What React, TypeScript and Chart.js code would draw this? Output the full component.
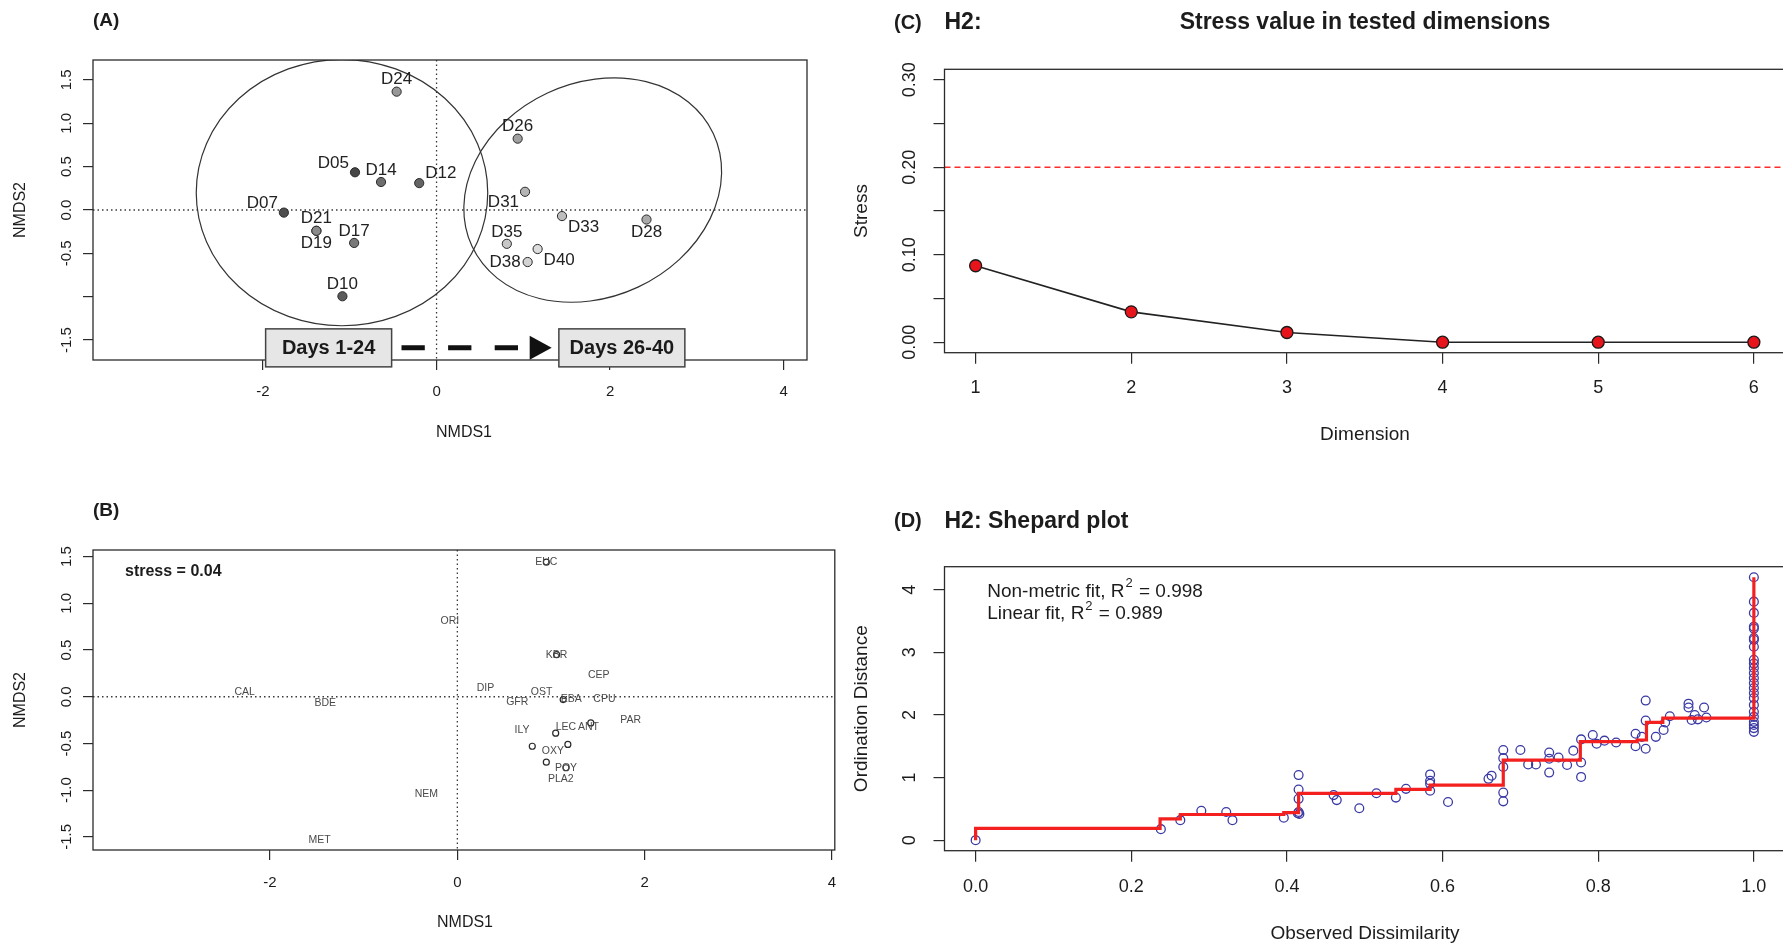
import React, { useEffect, useRef } from 'react';
import { Chart, registerables } from 'chart.js';

Chart.register(...registerables);

const FONT = '"Liberation Sans", Arimo, Arial, Helvetica, sans-serif';
const INK = '#1c1c1c';

// ---------------- Panel A : site scores ----------------
const siteNames = ['D05', 'D07', 'D10', 'D12', 'D14', 'D17', 'D19', 'D21', 'D24', 'D26', 'D28', 'D31', 'D33', 'D35', 'D38', 'D40'];
const siteX = [-0.94, -1.76, -1.085, -0.2, -0.64, -0.95, -1.385, -1.385, -0.46, 0.935, 2.42, 1.02, 1.446, 0.81, 1.05, 1.165];
const siteY = [0.435, -0.03, -0.995, 0.31, 0.323, -0.38, -0.24, -0.24, 1.365, 0.823, -0.11, 0.21, -0.07, -0.39, -0.6, -0.45];
const siteLabelPos = ['topleft', 'topleft', 'top', 'topright', 'top', 'top', 'bottom', 'top', 'top', 'top', 'bottom', 'bottomleft', 'bottomright', 'top', 'left', 'bottomright'];

const ellipseCX = [-1.09, 1.8];
const ellipseCY = [0.2, 0.23];
const ellipseRX = [1.68, 1.535];
const ellipseRY = [1.535, 1.235];
const ellipseAngle = [0, 25];

const periodLabels = ['Days 1-24', 'Days 26-40'];
const periodBoxX = [-1.244, 2.136];
const periodY = -1.59;
const arrowFromX = -0.404;
const arrowToX = 1.327;

const aXTicks = [-2, 0, 2, 4];
const aXTickLabels = ['-2', '0', '2', '4'];
const aYTicks = [-1.5, -1, -0.5, 0, 0.5, 1, 1.5];
const aYTickLabels = ['-1.5', '', '-0.5', '0.0', '0.5', '1.0', '1.5'];

// ---------------- Panel B : species scores ----------------
const speciesNames = ['EUC', 'ORI', 'KBR', 'CEP', 'DIP', 'OST', 'GFR', 'EBA', 'CPU', 'PAR', 'ILY', 'LEC', 'ANT', 'OXY', 'POY', 'PLA2', 'CAL', 'BDE', 'NEM', 'MET'];
const speciesX = [0.95, -0.08, 1.06, 1.51, 0.3, 0.9, 0.64, 1.215, 1.57, 1.85, 0.69, 1.16, 1.4, 1.02, 1.16, 1.105, -2.27, -1.41, -0.33, -1.47];
const speciesY = [1.44, 0.81, 0.45, 0.23, 0.09, 0.05, -0.06, -0.03, -0.03, -0.25, -0.36, -0.33, -0.33, -0.58, -0.76, -0.88, 0.05, -0.07, -1.04, -1.53];
const speciesPointX = [0.95, 1.06, 1.13, 1.425, 1.05, 0.8, 1.18, 0.95, 1.16];
const speciesPointY = [1.44, 0.45, -0.03, -0.28, -0.39, -0.53, -0.51, -0.7, -0.76];
const stressText = 'stress = 0.04';

const bXTicks = [-2, 0, 2, 4];
const bXTickLabels = ['-2', '0', '2', '4'];
const bYTicks = [-1.5, -1, -0.5, 0, 0.5, 1, 1.5];
const bYTickLabels = ['-1.5', '-1.0', '-0.5', '0.0', '0.5', '1.0', '1.5'];

// ---------------- Panel C : stress vs dimension ----------------
const dimensions = [1, 2, 3, 4, 5, 6];
const stressValues = [0.0874, 0.0347, 0.0111, 0.0, 0.0, 0.0];
const stressThreshold = 0.2;
const cXTicks = [1, 2, 3, 4, 5, 6];
const cXTickLabels = ['1', '2', '3', '4', '5', '6'];
const cYTicks = [0, 0.05, 0.1, 0.15, 0.2, 0.25, 0.3];
const cYTickLabels = ['0.00', '', '0.10', '', '0.20', '', '0.30'];

// ---------------- Panel D : Shepard plot ----------------
const shepX = [
  0, 0.238, 0.263, 0.29, 0.322, 0.33, 0.396, 0.414, 0.415, 0.415, 0.415, 0.415, 0.416,
  0.46, 0.464, 0.493, 0.515, 0.54, 0.553, 0.584, 0.584, 0.584, 0.584, 0.607, 0.659, 0.663,
  0.678, 0.678, 0.678, 0.678, 0.678, 0.7, 0.71, 0.72, 0.737, 0.737, 0.737, 0.749, 0.76, 0.768,
  0.778, 0.778, 0.778, 0.793, 0.798, 0.808, 0.823, 0.848, 0.848, 0.856, 0.861, 0.861, 0.861,
  0.874, 0.884, 0.886, 0.892, 0.916, 0.916, 0.92, 0.924, 0.928, 0.936, 0.939,
  1, 1, 1, 1, 1, 1, 1, 1, 1, 1, 1, 1, 1, 1, 1, 1, 1, 1, 1, 1, 1, 1, 1, 1,
];
const shepY = [
  0, 0.176, 0.32, 0.47, 0.45, 0.32, 0.36, 0.43, 1.04, 0.81, 0.66, 0.45, 0.42,
  0.72, 0.64, 0.51, 0.75, 0.68, 0.82, 1.05, 0.95, 0.9, 0.79, 0.61, 0.98, 1.03,
  1.44, 1.31, 1.17, 0.76, 0.62, 1.44, 1.21, 1.21, 1.4, 1.3, 1.08, 1.32, 1.2, 1.43,
  1.61, 1.24, 1.01, 1.68, 1.54, 1.59, 1.56, 1.7, 1.5, 1.65, 2.23, 1.91, 1.46,
  1.65, 1.76, 1.88, 1.98, 2.18, 2.12, 1.92, 2.0, 1.93, 2.12, 1.96,
  4.2, 3.81, 3.63, 3.41, 3.38, 3.23, 3.2, 3.09, 2.88, 2.82, 2.75, 2.67, 2.59, 2.51, 2.43, 2.35, 2.27, 2.16, 2.05, 1.97, 1.89, 1.84, 1.79, 1.73,
];
const fitX = [0, 0, 0.237, 0.263, 0.396, 0.415, 0.54, 0.584, 0.678, 0.777, 0.85, 0.862, 0.883, 1.0, 1.0];
const fitY = [0, 0.187, 0.34, 0.41, 0.44, 0.747, 0.81, 0.88, 1.28, 1.573, 1.6, 1.88, 1.95, 1.95, 4.2];
const fitLegend = [['Non-metric fit, R', ' = 0.998'], ['Linear fit, R', ' = 0.989']];
const dXTicks = [0, 0.2, 0.4, 0.6, 0.8, 1.0];
const dXTickLabels = ['0.0', '0.2', '0.4', '0.6', '0.8', '1.0'];
const dYTicks = [0, 1, 2, 3, 4];
const dYTickLabels = ['0', '1', '2', '3', '4'];

// ---------------- helpers ----------------
function linAxis(min: number, max: number, tickVals: number[], tickLen: number, size: number, horizontal: boolean): any {
  return {
    type: 'linear',
    min,
    max,
    afterBuildTicks: (s: any) => {
      s.ticks = tickVals.map((v) => ({ value: v }));
    },
    afterFit: (s: any) => {
      if (horizontal) s.height = size;
      else s.width = size;
    },
    ticks: { display: false },
    grid: { display: true, drawOnChartArea: false, drawTicks: true, tickLength: tickLen, color: '#2b2b2b', lineWidth: 1.2 },
    border: { display: false },
  };
}

function baseOptions(padTop: number, padRight: number, x: any, y: any): any {
  return {
    responsive: false,
    maintainAspectRatio: false,
    animation: false,
    events: [],
    layout: { padding: { top: padTop, right: padRight, left: 0, bottom: 0 } },
    plugins: { legend: { display: false }, tooltip: { enabled: false }, title: { display: false } },
    scales: { x, y },
  };
}

function drawText(ctx: CanvasRenderingContext2D, s: string, x: number, y: number, font: string, align: CanvasTextAlign = 'center', color = INK, rot = 0) {
  ctx.save();
  ctx.font = font;
  ctx.fillStyle = color;
  ctx.textAlign = align;
  ctx.textBaseline = 'middle';
  ctx.translate(x, y);
  if (rot) ctx.rotate(rot);
  ctx.fillText(s, 0, 0);
  ctx.restore();
}

function frame(ctx: CanvasRenderingContext2D, a: any) {
  ctx.save();
  ctx.strokeStyle = '#2b2b2b';
  ctx.lineWidth = 1.3;
  ctx.strokeRect(a.left, a.top, a.right - a.left, a.bottom - a.top);
  ctx.restore();
}

function zeroLines(ctx: CanvasRenderingContext2D, a: any, xs: any, ys: any) {
  ctx.save();
  ctx.strokeStyle = '#3a3a3a';
  ctx.lineWidth = 1.3;
  ctx.setLineDash([1.5, 3]);
  ctx.beginPath();
  const x0 = xs.getPixelForValue(0);
  const y0 = ys.getPixelForValue(0);
  ctx.moveTo(x0, a.top);
  ctx.lineTo(x0, a.bottom);
  ctx.moveTo(a.left, y0);
  ctx.lineTo(a.right, y0);
  ctx.stroke();
  ctx.restore();
}

function xTickLabels(chart: any, vals: number[], labels: string[], yPos: number, font: string) {
  const xs = chart.scales.x;
  vals.forEach((v, i) => {
    if (labels[i]) drawText(chart.ctx, labels[i], xs.getPixelForValue(v), yPos, font);
  });
}

function yTickLabels(chart: any, vals: number[], labels: string[], xPos: number, font: string) {
  const ys = chart.scales.y;
  vals.forEach((v, i) => {
    if (labels[i]) drawText(chart.ctx, labels[i], xPos, ys.getPixelForValue(v), font, 'center', INK, -Math.PI / 2);
  });
}

const LABEL_OFFSETS: Record<string, [number, number, CanvasTextAlign]> = {
  top: [0, -12, 'center'],
  bottom: [0, 13, 'center'],
  topleft: [-6, -9, 'right'],
  topright: [6, -10, 'left'],
  bottomleft: [-6, 11, 'right'],
  bottomright: [6, 11, 'left'],
  left: [-7, 0, 'right'],
};

// ---------------- Panel A ----------------
const pluginA = {
  id: 'panelA',
  beforeDatasetsDraw(chart: any) {
    const { ctx, chartArea: a } = chart;
    const xs = chart.scales.x;
    const ys = chart.scales.y;
    zeroLines(ctx, a, xs, ys);
    ctx.save();
    ctx.beginPath();
    ctx.rect(a.left, a.top, a.right - a.left, a.bottom - a.top);
    ctx.clip();
    ctx.strokeStyle = '#333';
    ctx.lineWidth = 1.2;
    for (let i = 0; i < ellipseCX.length; i++) {
      const cx = xs.getPixelForValue(ellipseCX[i]);
      const cy = ys.getPixelForValue(ellipseCY[i]);
      const rx = Math.abs(xs.getPixelForValue(ellipseCX[i] + ellipseRX[i]) - cx);
      const ry = Math.abs(ys.getPixelForValue(ellipseCY[i] + ellipseRY[i]) - cy);
      ctx.beginPath();
      ctx.ellipse(cx, cy, rx, ry, (-ellipseAngle[i] * Math.PI) / 180, 0, Math.PI * 2);
      ctx.stroke();
    }
    ctx.restore();
    frame(ctx, a);
  },
  afterDatasetsDraw(chart: any) {
    const xs = chart.scales.x;
    const ys = chart.scales.y;
    siteNames.forEach((n, i) => {
      const [dx, dy, al] = LABEL_OFFSETS[siteLabelPos[i]];
      drawText(chart.ctx, n, xs.getPixelForValue(siteX[i]) + dx, ys.getPixelForValue(siteY[i]) + dy, `17px ${FONT}`, al, '#222');
    });
  },
  afterDraw(chart: any) {
    const { ctx } = chart;
    const xs = chart.scales.x;
    const ys = chart.scales.y;
    const yA = ys.getPixelForValue(periodY);
    const x0 = xs.getPixelForValue(arrowFromX);
    const x1 = xs.getPixelForValue(arrowToX);
    ctx.save();
    ctx.strokeStyle = '#111';
    ctx.lineWidth = 5;
    ctx.setLineDash([23.3, 23.3]);
    ctx.beginPath();
    ctx.moveTo(x0, yA);
    ctx.lineTo(x1 - 33.4, yA);
    ctx.stroke();
    ctx.setLineDash([]);
    ctx.fillStyle = '#111';
    ctx.beginPath();
    ctx.moveTo(x1, yA);
    ctx.lineTo(x1 - 22, yA - 12);
    ctx.lineTo(x1 - 22, yA + 12);
    ctx.closePath();
    ctx.fill();
    periodLabels.forEach((lab, i) => {
      const cx = xs.getPixelForValue(periodBoxX[i]);
      const w = 126;
      const h = 38;
      ctx.fillStyle = '#e6e6e6';
      ctx.strokeStyle = '#444';
      ctx.lineWidth = 1.5;
      ctx.fillRect(cx - w / 2, yA - h / 2, w, h);
      ctx.strokeRect(cx - w / 2, yA - h / 2, w, h);
      drawText(ctx, lab, cx, yA + 1, `bold 20px ${FONT}`, 'center', '#1a1a1a');
    });
    ctx.restore();
    xTickLabels(chart, aXTicks, aXTickLabels, 392, `15px ${FONT}`);
    yTickLabels(chart, aYTicks, aYTickLabels, 67, `15px ${FONT}`);
    drawText(ctx, 'NMDS1', 464, 433, `16px ${FONT}`);
    drawText(ctx, 'NMDS2', 21, 210, `16px ${FONT}`, 'center', INK, -Math.PI / 2);
    drawText(ctx, '(A)', 93, 21, `bold 19px ${FONT}`, 'left');
  },
};

function buildA(): any {
  const data = siteNames.map((_, i) => ({ x: siteX[i], y: siteY[i] }));
  const colors = siteNames.map((n) => {
    const d = parseInt(n.slice(1), 10);
    const g = Math.round(70 + ((d - 5) / 35) * 150);
    return `rgb(${g},${g},${g})`;
  });
  return {
    type: 'scatter',
    data: {
      datasets: [
        { data, pointRadius: 4.6, pointBackgroundColor: colors, pointBorderColor: '#2a2a2a', pointBorderWidth: 1 },
      ],
    },
    options: baseOptions(60, 33, linAxis(-3.96, 4.27, aXTicks, 10, 110, true), linAxis(-1.73, 1.73, aYTicks, 10, 93, false)),
    plugins: [pluginA],
  };
}

// ---------------- Panel B ----------------
const pluginB = {
  id: 'panelB',
  beforeDatasetsDraw(chart: any) {
    const { ctx, chartArea: a } = chart;
    zeroLines(ctx, a, chart.scales.x, chart.scales.y);
    frame(ctx, a);
  },
  afterDatasetsDraw(chart: any) {
    const xs = chart.scales.x;
    const ys = chart.scales.y;
    speciesNames.forEach((n, i) => {
      drawText(chart.ctx, n, xs.getPixelForValue(speciesX[i]), ys.getPixelForValue(speciesY[i]), `10.5px ${FONT}`, 'center', '#4a4a4a');
    });
  },
  afterDraw(chart: any) {
    const { ctx } = chart;
    xTickLabels(chart, bXTicks, bXTickLabels, 413, `15px ${FONT}`);
    yTickLabels(chart, bYTicks, bYTickLabels, 67, `15px ${FONT}`);
    drawText(ctx, 'NMDS1', 465, 453, `16px ${FONT}`);
    drawText(ctx, 'NMDS2', 21, 230, `16px ${FONT}`, 'center', INK, -Math.PI / 2);
    drawText(ctx, '(B)', 93, 41, `bold 19px ${FONT}`, 'left');
    drawText(ctx, stressText, 125, 102, `bold 16px ${FONT}`, 'left');
  },
};

function buildB(): any {
  const data = speciesPointX.map((x, i) => ({ x, y: speciesPointY[i] }));
  return {
    type: 'scatter',
    data: {
      datasets: [
        { data, pointRadius: 3, pointBackgroundColor: 'rgba(0,0,0,0)', pointBorderColor: '#2a2a2a', pointBorderWidth: 1.2 },
      ],
    },
    options: baseOptions(80, 3.5, linAxis(-3.89, 4.03, bXTicks, 10, 96, true), linAxis(-1.64, 1.57, bYTicks, 10, 93, false)),
    plugins: [pluginB],
  };
}

// ---------------- Panel C ----------------
const pluginC = {
  id: 'panelC',
  beforeDatasetsDraw(chart: any) {
    const { ctx, chartArea: a } = chart;
    const y = chart.scales.y.getPixelForValue(stressThreshold);
    ctx.save();
    ctx.strokeStyle = '#ff2a2a';
    ctx.lineWidth = 1.5;
    ctx.setLineDash([6, 4]);
    ctx.beginPath();
    ctx.moveTo(a.left, y);
    ctx.lineTo(a.right, y);
    ctx.stroke();
    ctx.restore();
    frame(ctx, a);
  },
  afterDraw(chart: any) {
    const { ctx } = chart;
    xTickLabels(chart, cXTicks, cXTickLabels, 388, `18px ${FONT}`);
    yTickLabels(chart, cYTicks, cYTickLabels, 70, `18px ${FONT}`);
    drawText(ctx, 'Dimension', 525, 435, `19px ${FONT}`);
    drawText(ctx, 'Stress', 22, 211, `19px ${FONT}`, 'center', INK, -Math.PI / 2);
    drawText(ctx, '(C)', 54, 23, `bold 20px ${FONT}`, 'left');
    drawText(ctx, 'H2:', 104.5, 23, `bold 23px ${FONT}`, 'left');
    drawText(ctx, 'Stress value in tested dimensions', 525, 23, `bold 23px ${FONT}`);
  },
};

function buildC(): any {
  const data = dimensions.map((d, i) => ({ x: d, y: stressValues[i] }));
  return {
    type: 'scatter',
    data: {
      datasets: [
        {
          data,
          showLine: true,
          borderColor: '#222',
          borderWidth: 1.6,
          pointRadius: 6,
          pointBackgroundColor: '#e8141b',
          pointBorderColor: '#1a1a1a',
          pointBorderWidth: 1.3,
        },
      ],
    },
    options: baseOptions(69.3, 15, linAxis(0.8, 6.2, cXTicks, 11, 117.3, true), linAxis(-0.012, 0.312, cYTicks, 11, 104.5, false)),
    plugins: [pluginC],
  };
}

// ---------------- Panel D ----------------
const pluginD = {
  id: 'panelD',
  beforeDatasetsDraw(chart: any) {
    frame(chart.ctx, chart.chartArea);
  },
  afterDraw(chart: any) {
    const { ctx } = chart;
    xTickLabels(chart, dXTicks, dXTickLabels, 416.7, `18px ${FONT}`);
    yTickLabels(chart, dYTicks, dYTickLabels, 70, `18px ${FONT}`);
    drawText(ctx, 'Observed Dissimilarity', 525, 463.3, `19px ${FONT}`);
    drawText(ctx, 'Ordination Distance', 22, 238.7, `19px ${FONT}`, 'center', INK, -Math.PI / 2);
    drawText(ctx, '(D)', 54, 51.7, `bold 20px ${FONT}`, 'left');
    drawText(ctx, 'H2: Shepard plot', 104.5, 51.7, `bold 23px ${FONT}`, 'left');
    const lx = 147.2;
    const lys = [121.7, 144];
    fitLegend.forEach(([pre, post], i) => {
      const y = lys[i];
      ctx.save();
      ctx.fillStyle = INK;
      ctx.textBaseline = 'middle';
      ctx.textAlign = 'left';
      ctx.font = `19px ${FONT}`;
      ctx.fillText(pre, lx, y);
      const w1 = ctx.measureText(pre).width;
      ctx.font = `13px ${FONT}`;
      ctx.fillText('2', lx + w1 + 1, y - 8);
      const w2 = ctx.measureText('2').width;
      ctx.font = `19px ${FONT}`;
      ctx.fillText(post, lx + w1 + w2 + 2, y);
      ctx.restore();
    });
  },
};

function buildD(): any {
  const pts = shepX.map((x, i) => ({ x, y: shepY[i] }));
  const fit = fitX.map((x, i) => ({ x, y: fitY[i] }));
  return {
    type: 'scatter',
    data: {
      datasets: [
        { data: fit, showLine: true, stepped: 'before', borderColor: '#f42020', borderWidth: 3.2, pointRadius: 0 },
        { data: pts, pointRadius: 4.4, pointBackgroundColor: 'rgba(0,0,0,0)', pointBorderColor: '#3a3aa5', pointBorderWidth: 1.3 },
      ],
    },
    options: baseOptions(96.7, 15, linAxis(-0.04, 1.04, dXTicks, 11, 95.3, true), linAxis(-0.168, 4.368, dYTicks, 11, 104.5, false)),
    plugins: [pluginD],
  };
}

// ---------------- components ----------------
type Spec = { left: number; top: number; width: number; height: number };

function Panel({ spec, build }: { spec: Spec; build: () => any }) {
  const ref = useRef<HTMLCanvasElement>(null);
  useEffect(() => {
    if (!ref.current) return;
    const chart = new Chart(ref.current, build());
    return () => chart.destroy();
  }, []);
  return (
    <canvas
      ref={ref}
      width={spec.width}
      height={spec.height}
      style={{ position: 'absolute', left: spec.left, top: spec.top, width: spec.width, height: spec.height }}
    />
  );
}

export default function App() {
  return (
    <div style={{ position: 'fixed', left: 0, top: 0, width: 1783, height: 946, overflow: 'hidden', background: '#fff' }}>
      <Panel spec={{ left: 0, top: 0, width: 840, height: 470 }} build={buildA} />
      <Panel spec={{ left: 0, top: 470, width: 840, height: 476 }} build={buildB} />
      <Panel spec={{ left: 840, top: 0, width: 960, height: 470 }} build={buildC} />
      <Panel spec={{ left: 840, top: 470, width: 960, height: 476 }} build={buildD} />
    </div>
  );
}
